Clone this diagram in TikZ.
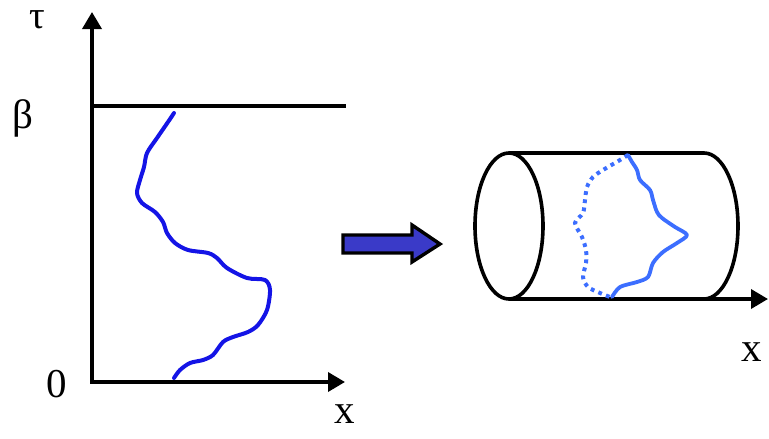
\documentclass[tikz,border=0pt]{standalone}
\usepackage{fontspec}
\setmainfont{Liberation Serif}
\usetikzlibrary{arrows.meta}
\definecolor{pathblue}{HTML}{1414E6}
\definecolor{loopblue}{HTML}{3C6EFF}
\definecolor{arrowblue}{HTML}{3A3AC8}
\begin{document}
\begin{tikzpicture}[x=1pt,y=-1pt,
  axis/.style={line width=3.6pt,-{Triangle[length=17pt,width=19pt]}},
  blackline/.style={line width=3.6pt},
  lbl/.style={font=\fontsize{41}{43}\selectfont,inner sep=0pt},
  walk/.style={pathblue,line width=4pt,line cap=round,line join=round},
  loopsolid/.style={loopblue,line width=3.8pt,line cap=round,line join=round},
  loopdot/.style={loopblue,line width=4pt,dash pattern=on 3.8pt off 4.4pt}]
\useasboundingbox (0,0) rectangle (769,439);
% left plot
\coordinate (O) at (92,382);
\coordinate (Ttop) at (92,12);
\coordinate (Xend) at (345,382);
\coordinate (Bl) at (92,106);
\coordinate (Br) at (346,106);
\draw[axis] ([yshift=-1.8pt]O) -- (Ttop);
\draw[axis] ([xshift=-1.8pt]O) -- (Xend);
\draw[blackline] (Bl) -- (Br);
\node[lbl,anchor=base,text height=0.5em,text depth=0pt,font=\fontsize{39}{41}\selectfont] (tau) at (37,28) {τ};
\node[lbl] (beta) at (23,118) {β};
\node[lbl] (zero) at (57,384) {0};
\node[lbl] (xl) at (345,414) {x};
\draw[walk] plot[smooth,tension=0.5] coordinates {
(174,113)(168,122)(157,138)(147,153)(144,167)(140,180)(137,193)(142,203)
(155,212)(163,222)(167,233)(175,243)(188,250)(208,253)(217,258)(227,268)
(247,278)(265,280)(270,290)(267,310)(258,325)(248,332)(233,337)(223,342)
(213,355)(203,360)(190,363)(180,370)(174,378)};
% fat arrow
\draw[line width=3.4pt,line join=miter,fill=arrowblue] (343,235) -- (412,235) -- (412,225) -- (440,244) -- (412,262) -- (412,253) -- (343,253) -- cycle;
% cylinder
\coordinate (Cl) at (509,226);
\coordinate (TL) at (509,153);
\coordinate (TR) at (704,153);
\coordinate (BL) at (509,299);
\coordinate (BR) at (768,299);
\draw[blackline] (Cl) ellipse [x radius=34, y radius=73];
\draw[blackline] (TL) -- (TR) arc[start angle=-90,end angle=90,x radius=34,y radius=73];
\draw[axis] (BL) -- (BR);
\node[lbl] (xr) at (752,352) {x};
\draw[loopsolid] plot[smooth,tension=0.5] coordinates {
(628,155)(632,162)(637,170)(640,180)(650,190)(653,200)(657,212)(662,218)
(675,227)(687,235)(677,243)(663,252)(653,263)(648,277)(637,282)(620,287)(612,297)};
\draw[loopdot] plot[smooth,tension=0.5] coordinates {
(628,155)(620,160)(603,170)(593,177)(587,187)(585,200)(583,213)(575,223)
(582,237)(586,250)(586,263)(583,277)(588,287)(600,293)(610,297)};
\end{tikzpicture}
\end{document}
